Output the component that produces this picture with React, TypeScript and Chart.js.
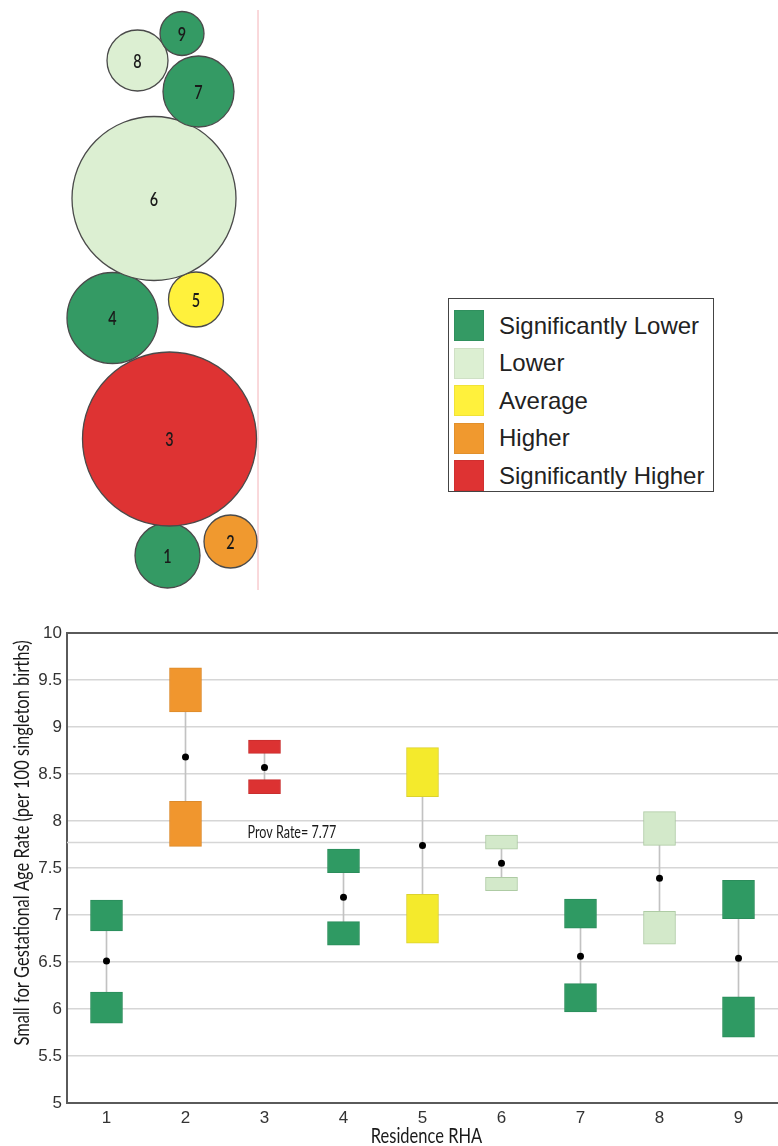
import React, { useEffect, useRef } from "react";
import { Chart, registerables } from "chart.js";

Chart.register(...registerables);

// ---- Data -----------------------------------------------------------------
const regions = ["1", "2", "3", "4", "5", "6", "7", "8", "9"];

const categoryNames = [
  "Significantly Lower",
  "Lower",
  "Average",
  "Higher",
  "Significantly Higher",
];
const categoryFill = ["#349a64", "#dcefd2", "#fff13c", "#f0992f", "#de3333"];
const boxFill = ["#2f9a63", "#d3e9ca", "#f4ea2c", "#f0962e", "#dc3232"];
const boxEdge = ["#2b8d5b", "#aecba4", "#dcd22e", "#dc8a2b", "#c92e2e"];

// category index for each residence RHA
const regionCategory = [0, 3, 4, 0, 2, 1, 0, 1, 0];

// cartogram: bubble centres (map units) and bubble radii
const mapX = [167.5, 230.5, 169.5, 112.5, 196, 154, 198.5, 137.5, 182];
const mapY = [555.5, 541.5, 439, 318, 299.5, 198.5, 91.5, 60.5, 33.5];
const mapR = [32.5, 26.5, 87, 45.5, 27.5, 82, 35.5, 30.5, 22];
const dividerX = 258;
const dividerY = [10, 590];

// rates per 100 singleton births
const rate = [6.51, 8.68, 8.57, 7.19, 7.74, 7.55, 6.56, 7.39, 6.54];
const upperLow = [6.83, 9.16, 8.72, 7.45, 8.26, 7.7, 6.86, 7.74, 6.96];
const upperHigh = [7.16, 9.63, 8.86, 7.7, 8.78, 7.85, 7.17, 8.1, 7.37];
const lowerLow = [5.85, 7.73, 8.29, 6.68, 6.7, 7.26, 5.97, 6.69, 5.7];
const lowerHigh = [6.18, 8.21, 8.44, 6.93, 7.22, 7.4, 6.27, 7.04, 6.13];
const provRate = 7.77;

const yMin = 5;
const yMax = 10;
const yStep = 0.5;

const yTitle = "Small for Gestational Age Rate (per 100 singleton births)";
const xTitle = "Residence RHA";
const provLabel = "Prov Rate= " + provRate.toFixed(2);

// ---- Helpers --------------------------------------------------------------
const narrowFamily = "Lato, 'Open Sans', sans-serif";
const tickFamily = "'Liberation Sans', Arial, sans-serif";

function drawNarrow(
  ctx: CanvasRenderingContext2D,
  text: string,
  x: number,
  y: number,
  size: number,
  squeeze: number,
  align: CanvasTextAlign = "center",
  angle = 0,
  weight = "normal"
) {
  ctx.save();
  ctx.translate(x, y);
  ctx.rotate(angle);
  ctx.scale(squeeze, 1);
  ctx.font = `${weight} ${size}px ${narrowFamily}`;
  ctx.fillStyle = "#1a1a1a";
  ctx.textAlign = align;
  ctx.textBaseline = "middle";
  ctx.fillText(text, 0, 0);
  ctx.restore();
}

const bubbleLabels = {
  id: "bubbleLabels",
  afterDatasetsDraw(chart: any) {
    const meta = chart.getDatasetMeta(0);
    const ctx = chart.ctx;
    meta.data.forEach((el: any, i: number) => {
      drawNarrow(ctx, regions[i], el.x, el.y + 1, 20, 0.72, "center", 0, "600");
    });
  },
};

const provRateLine = {
  id: "provRateLine",
  beforeDatasetsDraw(chart: any) {
    const { ctx, chartArea, scales } = chart;
    const y = scales.y.getPixelForValue(provRate);
    ctx.save();
    ctx.strokeStyle = "#d6d6d6";
    ctx.lineWidth = 1.5;
    ctx.beginPath();
    ctx.moveTo(chartArea.left, y);
    ctx.lineTo(chartArea.right, y);
    ctx.stroke();
    ctx.restore();
  },
  afterDatasetsDraw(chart: any) {
    const { ctx, scales } = chart;
    const y = scales.y.getPixelForValue(provRate);
    const x = scales.x.getPixelForValue(2) - 17;
    drawNarrow(ctx, provLabel, x, y - 10, 17, 0.74, "left");
  },
};

const axisTitles = {
  id: "axisTitles",
  afterDraw(chart: any) {
    const { ctx, chartArea } = chart;
    const cy = (chartArea.top + chartArea.bottom) / 2 - 25;
    drawNarrow(ctx, yTitle, 22, cy, 22, 0.75, "center", -Math.PI / 2);
    const cx = (chartArea.left + chartArea.right) / 2 + 4;
    drawNarrow(ctx, xTitle, cx, chart.height - 10, 22, 0.75, "center");
  },
};

// ---- Component ------------------------------------------------------------
export default function App() {
  const mapRef = useRef<HTMLCanvasElement | null>(null);
  const rateRef = useRef<HTMLCanvasElement | null>(null);

  useEffect(() => {
    if (!mapRef.current || !rateRef.current) return;

    const mapChart = new Chart(mapRef.current, {
      type: "bubble",
      data: {
        datasets: [
          {
            label: "RHA",
            data: regions.map((_, i) => ({ x: mapX[i], y: mapY[i], r: mapR[i] })),
            backgroundColor: regionCategory.map((c) => categoryFill[c]),
            borderColor: "#4a4a4a",
            borderWidth: 1.3,
            clip: false,
          } as any,
          {
            type: "line",
            label: "divider",
            data: dividerY.map((y) => ({ x: dividerX, y })),
            borderColor: "#f9d3d6",
            borderWidth: 1,
            pointRadius: 0,
          } as any,
        ],
      },
      options: {
        responsive: false,
        animation: false,
        events: [],
        layout: { padding: 0, autoPadding: false },
        scales: {
          x: { type: "linear", min: 0, max: 440, display: false },
          y: { type: "linear", min: 0, max: 600, reverse: true, display: false },
        },
        plugins: { legend: { display: false }, tooltip: { enabled: false } },
      },
      plugins: [bubbleLabels],
    });

    const rateChart = new Chart(rateRef.current, {
      type: "bar",
      data: {
        labels: regions,
        datasets: [
          {
            type: "line",
            label: "Rate",
            data: rate,
            showLine: false,
            pointRadius: 3.5,
            pointBackgroundColor: "#000",
            pointBorderWidth: 0,
            order: 0,
          } as any,
          {
            type: "bar",
            label: "Upper",
            data: regions.map((_, i) => [upperLow[i], upperHigh[i]]),
            backgroundColor: regionCategory.map((c) => boxFill[c]),
            borderColor: regionCategory.map((c) => boxEdge[c]),
            borderWidth: 1,
            borderSkipped: false,
            barThickness: 32,
            grouped: false,
            order: 1,
          },
          {
            type: "bar",
            label: "Lower",
            data: regions.map((_, i) => [lowerLow[i], lowerHigh[i]]),
            backgroundColor: regionCategory.map((c) => boxFill[c]),
            borderColor: regionCategory.map((c) => boxEdge[c]),
            borderWidth: 1,
            borderSkipped: false,
            barThickness: 32,
            grouped: false,
            order: 1,
          },
          {
            type: "bar",
            label: "Interval",
            data: regions.map((_, i) => [lowerHigh[i], upperLow[i]]),
            backgroundColor: "#c2c2c2",
            borderWidth: 0,
            barThickness: 1,
            grouped: false,
            order: 2,
          },
        ],
      },
      options: {
        responsive: false,
        animation: false,
        events: [],
        layout: { padding: { top: 23, right: 0, bottom: 0, left: 0 } },
        scales: {
          x: {
            offset: true,
            grid: { display: false, drawTicks: false },
            border: { color: "#5a5a5a", width: 2 },
            ticks: { font: { family: tickFamily, size: 17 }, color: "#333", padding: 5 },
            afterFit: (s: any) => {
              s.height = 43;
            },
          },
          y: {
            min: yMin,
            max: yMax,
            ticks: {
              stepSize: yStep,
              font: { family: tickFamily, size: 17 },
              color: "#333",
              padding: 5,
              callback: (v: any) => String(Number(v)),
            },
            grid: {
              drawTicks: false,
              color: (c: any) => (c.tick && c.tick.value === yMax ? "#5a5a5a" : "#d6d6d6"),
              lineWidth: (c: any) => (c.tick && c.tick.value === yMax ? 2 : 1.5),
            },
            border: { color: "#5a5a5a", width: 2 },
            afterFit: (s: any) => {
              s.width = 67;
            },
          },
        },
        plugins: { legend: { display: false }, tooltip: { enabled: false } },
      },
      plugins: [provRateLine, axisTitles],
    });

    return () => {
      mapChart.destroy();
      rateChart.destroy();
    };
  }, []);

  return (
    <div
      style={{
        position: "absolute",
        left: 0,
        top: 0,
        width: 778,
        height: 1146,
        background: "#fff",
        overflow: "hidden",
      }}
    >
      <canvas
        ref={mapRef}
        width={440}
        height={600}
        style={{ position: "absolute", left: 0, top: 0, width: 440, height: 600 }}
      />
      <div
        style={{
          position: "absolute",
          left: 448,
          top: 298,
          width: 266,
          height: 194,
          boxSizing: "border-box",
          border: "1px solid #444",
          paddingTop: 8,
          fontFamily: tickFamily,
          fontSize: 24,
          color: "#222",
        }}
      >
        {categoryNames.map((name, i) => (
          <div
            key={name}
            style={{ display: "flex", alignItems: "center", height: 37.5 }}
          >
            <div
              style={{
                width: 30,
                height: 31,
                marginLeft: 5,
                marginRight: 15,
                background: categoryFill[i],
                boxSizing: "border-box",
                border: "1px solid rgba(0,0,0,0.06)",
                flexShrink: 0,
              }}
            />
            <span style={{ whiteSpace: "nowrap" }}>{name}</span>
          </div>
        ))}
      </div>
      <canvas
        ref={rateRef}
        width={782}
        height={536}
        style={{ position: "absolute", left: 0, top: 610, width: 782, height: 536 }}
      />
    </div>
  );
}
